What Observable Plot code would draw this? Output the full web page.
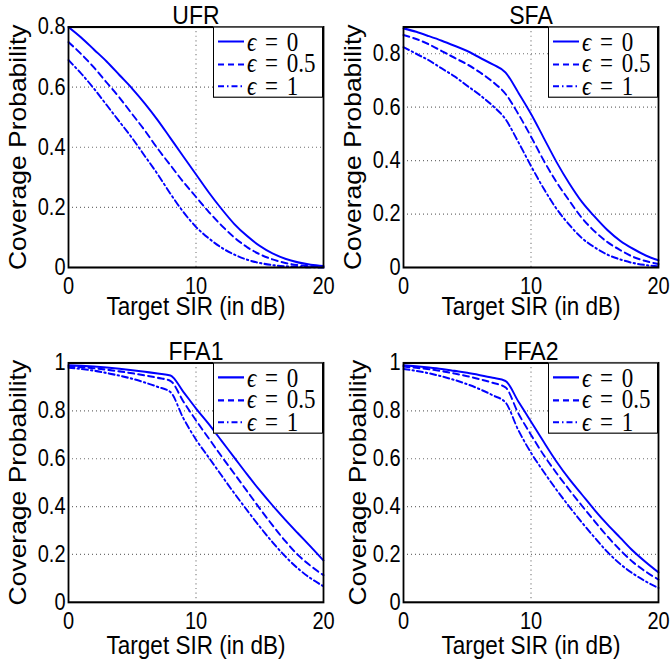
<!DOCTYPE html>
<html>
<head>
<meta charset="utf-8">
<script src="https://cdn.jsdelivr.net/npm/d3@7"></script>
<script src="https://cdn.jsdelivr.net/npm/@observablehq/plot@0.6"></script>
<style>
  html, body { margin: 0; padding: 0; background: #fff; }
  #root { position: relative; width: 671px; height: 665px; overflow: hidden; background: #fff; }
</style>
</head>
<body>
<div id="root"></div>
<script>
// ---- Data ----
const sir = [0,1,2,3,4,5,6,7,8,9,10,11,12,13,14,15,16,17,18,19,20];

const panelTitles = ["UFR", "SFA", "FFA1", "FFA2"];
const epsLabels = ["0", "0.5", "1"];
const xTicks = [0, 10, 20];
const yTicksA = [0, 0.2, 0.4, 0.6, 0.8];
const yTicksB = [0, 0.2, 0.4, 0.6, 0.8, 1];
const yMaxes = [0.8, 0.9, 1, 1];
const xLabel = "Target SIR (in dB)";
const yLabel = "Coverage Probability";

const ufr_e0  = [0.800,0.765,0.725,0.685,0.640,0.595,0.545,0.490,0.430,0.370,0.310,0.250,0.195,0.145,0.105,0.072,0.047,0.029,0.017,0.009,0.005];
const ufr_e05 = [0.750,0.710,0.665,0.615,0.565,0.510,0.455,0.395,0.340,0.285,0.235,0.185,0.140,0.100,0.068,0.044,0.027,0.015,0.008,0.004,0.002];
const ufr_e1  = [0.690,0.645,0.595,0.540,0.485,0.430,0.370,0.310,0.245,0.185,0.135,0.097,0.066,0.043,0.026,0.015,0.008,0.004,0.002,0.001,0.000];

const sfa_e0  = [0.895,0.882,0.866,0.849,0.830,0.810,0.785,0.760,0.730,0.655,0.575,0.485,0.395,0.315,0.245,0.190,0.140,0.100,0.070,0.045,0.027];
const sfa_e05 = [0.870,0.855,0.835,0.810,0.785,0.760,0.730,0.695,0.650,0.575,0.490,0.400,0.320,0.250,0.185,0.135,0.095,0.065,0.040,0.024,0.013];
const sfa_e1  = [0.825,0.800,0.775,0.745,0.715,0.680,0.645,0.605,0.555,0.470,0.380,0.295,0.220,0.160,0.110,0.075,0.048,0.030,0.017,0.009,0.004];

const ffa1_e0  = [0.990,0.988,0.985,0.981,0.976,0.970,0.963,0.956,0.948,0.880,0.810,0.745,0.675,0.605,0.535,0.468,0.405,0.345,0.288,0.232,0.175];
const ffa1_e05 = [0.985,0.982,0.978,0.972,0.965,0.957,0.948,0.938,0.925,0.840,0.760,0.685,0.610,0.538,0.465,0.392,0.322,0.256,0.198,0.152,0.113];
const ffa1_e1  = [0.980,0.975,0.968,0.958,0.947,0.934,0.918,0.900,0.878,0.770,0.680,0.605,0.530,0.456,0.385,0.316,0.251,0.192,0.141,0.100,0.067];

const ffa2_e0  = [0.990,0.986,0.981,0.975,0.967,0.959,0.949,0.938,0.925,0.840,0.755,0.670,0.588,0.515,0.450,0.385,0.325,0.270,0.215,0.168,0.125];
const ffa2_e05 = [0.985,0.980,0.974,0.966,0.956,0.945,0.932,0.917,0.898,0.790,0.700,0.615,0.540,0.470,0.403,0.338,0.275,0.218,0.168,0.128,0.095];
const ffa2_e1  = [0.975,0.967,0.957,0.944,0.929,0.911,0.890,0.865,0.835,0.720,0.625,0.545,0.470,0.400,0.333,0.270,0.210,0.160,0.120,0.087,0.060];

const panelSeries = [
  [ufr_e0, ufr_e05, ufr_e1],
  [sfa_e0, sfa_e05, sfa_e1],
  [ffa1_e0, ffa1_e05, ffa1_e1],
  [ffa2_e0, ffa2_e05, ffa2_e1]
];

// ---- Layout (unstretched coordinates; the figure is stretched vertically) ----
const S = 665 / 578;
const layout = [
  {left: 0,   top: 0,   w: 335, h: 278, ml: 68, mr: 12, mt: 23, mb: 46, yTicks: yTicksA, ylabDx: -50, xlabDy: 34},
  {left: 335, top: 0,   w: 336, h: 278, ml: 68, mr: 13, mt: 23, mb: 46, yTicks: yTicksA, ylabDx: -50, xlabDy: 34},
  {left: 0,   top: 278, w: 335, h: 300, ml: 68, mr: 12, mt: 37, mb: 55, yTicks: yTicksB, ylabDx: -50, xlabDy: 38},
  {left: 335, top: 278, w: 336, h: 300, ml: 68, mr: 13, mt: 37, mb: 55, yTicks: yTicksB, ylabDx: -45, xlabDy: 38}
];
const lineStyles = [
  {dash: null},
  {dash: "6,4"},
  {dash: "6,3,1.5,3"}
];
const BLUE = "#0000ff";

const root = document.getElementById("root");
const wrap = document.createElement("div");
wrap.style.cssText = `position:absolute;left:0;top:0;width:671px;height:578px;transform:scale(1,${S});transform-origin:0 0;`;
root.appendChild(wrap);

layout.forEach((p, i) => {
  const yMax = yMaxes[i];
  const seriesMarks = panelSeries[i].map((ys, k) => {
    const rows = ys.map((y, j) => ({x: sir[j], y}));
    const o = {x: "x", y: "y", stroke: BLUE, strokeWidth: 1.8, curve: "monotone-x"};
    if (lineStyles[k].dash) o.strokeDasharray = lineStyles[k].dash;
    return Plot.line(rows, o);
  });
  const gridDots = {stroke: "#6f6f6f", strokeOpacity: 1, strokeWidth: 1, strokeDasharray: "1,3"};
  const chart = Plot.plot({
    width: p.w,
    height: p.h,
    marginLeft: p.ml,
    marginRight: p.mr,
    marginTop: p.mt,
    marginBottom: p.mb,
    style: {fontFamily: "'Liberation Sans', Arial, Helvetica, sans-serif", color: "black", background: "transparent", overflow: "visible"},
    x: {domain: [0, 20]},
    y: {domain: [0, yMax]},
    marks: [
      Plot.gridY(p.yTicks.filter(t => t > 0 && t < yMax), gridDots),
      Plot.gridX(xTicks.filter(t => t > 0 && t < 20), gridDots),
      ...seriesMarks,
      Plot.frame({stroke: "black", strokeWidth: 1.8}),
      Plot.axisX(xTicks, {tickSize: 0, tickPadding: 9, fontSize: 20, label: null, tickFormat: d => String(d)}),
      Plot.axisY(p.yTicks, {tickSize: 0, tickPadding: 3, fontSize: 20, label: null, tickFormat: d => String(d)}),
      Plot.text([panelTitles[i]], {text: d => d, frameAnchor: "top", textAnchor: "middle", dy: -10, fontSize: 23, lineAnchor: "middle"}),
      Plot.text([xLabel], {text: d => d, frameAnchor: "bottom", textAnchor: "middle", dy: p.xlabDy, fontSize: 22.5, lineAnchor: "middle"}),
      Plot.text([yLabel], {text: d => d, frameAnchor: "left", textAnchor: "middle", dx: p.ylabDx, rotate: -90, fontSize: 23, lineAnchor: "middle"})
    ]
  });
  chart.style.position = "absolute";
  chart.style.left = p.left + "px";
  chart.style.top = p.top + "px";
  wrap.appendChild(chart);

  // legend (top-right of plot area)
  const lw = 110, lh = 62;
  const lg = document.createElement("div");
  lg.style.cssText = `position:absolute;left:${p.left + p.w - p.mr - lw}px;top:${p.top + p.mt}px;width:${lw}px;height:${lh}px;box-sizing:border-box;border:1.8px solid black;background:white;`;
  epsLabels.forEach((lab, k) => {
    const row = document.createElement("div");
    row.style.cssText = `position:absolute;left:4px;top:${2.5 + k * 19.5}px;height:19.5px;display:flex;align-items:center;white-space:nowrap;font-family:'Liberation Serif','DejaVu Serif',serif;font-size:23px;line-height:19.5px;color:black;`;
    const dash = lineStyles[k].dash ? `stroke-dasharray="${lineStyles[k].dash}"` : "";
    row.innerHTML = `<svg width="26" height="6" style="display:block"><line x1="0" x2="26" y1="3" y2="3" stroke="${BLUE}" stroke-width="1.8" ${dash}/></svg>` +
      `<span style="margin-left:3px;word-spacing:3px"><i>ϵ</i> = ${lab}</span>`;
    lg.appendChild(row);
  });
  wrap.appendChild(lg);
});
</script>
</body>
</html>
